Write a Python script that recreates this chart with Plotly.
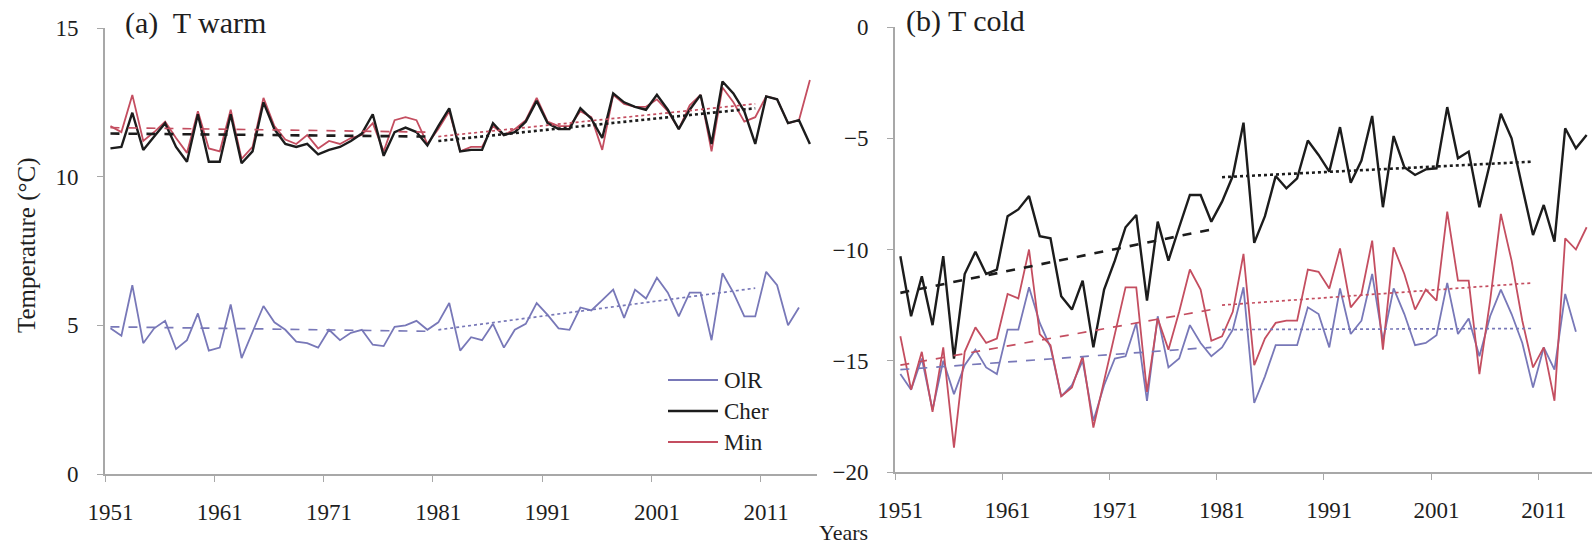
import plotly.graph_objects as go

# ---------------- data ----------------
years_all = list(range(1951, 2016))      # Cher and Min: 1951-2015
years_olr = list(range(1951, 2015))      # OlR: 1951-2014

# (a) T warm
cher_warm = [10.95, 11.0, 12.15, 10.9, 11.35, 11.8, 11.0, 10.5, 12.1, 10.5,
             10.5, 12.1, 10.45, 10.85, 12.5, 11.6, 11.1, 11.0, 11.1, 10.75,
             10.9, 11.0, 11.2, 11.45, 12.1, 10.7, 11.5, 11.65, 11.5, 11.05,
             11.7, 12.3, 10.85, 10.9, 10.9, 11.8, 11.4, 11.5, 11.85, 12.55,
             11.8, 11.6, 11.6, 12.3, 11.95, 11.3, 12.8, 12.5, 12.35, 12.25,
             12.75, 12.25, 11.6, 12.25, 12.75, 11.1, 13.2, 12.8, 12.2, 11.1,
             12.7, 12.6, 11.8, 11.9, 11.1]
min_warm = [11.7, 11.5, 12.75, 11.2, 11.5, 11.85, 11.3, 10.8, 12.2, 10.95,
            10.85, 12.25, 10.6, 11.0, 12.65, 11.7, 11.25, 11.1, 11.4, 10.95,
            11.2, 11.1, 11.3, 11.4, 11.8, 10.85, 11.9, 12.0, 11.9, 11.1,
            11.6, 12.2, 10.85, 11.0, 11.0, 11.7, 11.4, 11.6, 11.9, 12.65,
            11.85, 11.7, 11.7, 12.2, 12.0, 10.9, 12.75, 12.45, 12.35, 12.35,
            12.6, 12.2, 11.6, 12.4, 12.75, 10.85, 13.0, 12.5, 11.85, 12.0,
            12.7, 12.6, 11.8, 11.9, 13.25]
olr_warm = [4.9, 4.65, 6.35, 4.4, 4.9, 5.15, 4.2, 4.5, 5.4, 4.15,
            4.25, 5.7, 3.9, 4.8, 5.65, 5.1, 4.85, 4.45, 4.4, 4.25,
            4.85, 4.5, 4.75, 4.85, 4.35, 4.3, 4.95, 5.0, 5.15, 4.85,
            5.1, 5.75, 4.15, 4.6, 4.5, 5.05, 4.25, 4.85, 5.05, 5.75,
            5.35, 4.9, 4.85, 5.6, 5.5, 5.85, 6.2, 5.25, 6.2, 5.9,
            6.6, 6.1, 5.3, 6.1, 6.1, 4.5, 6.75, 6.1, 5.3, 5.3,
            6.8, 6.35, 5.0, 5.6]

# (b) T cold
cher_cold = [-10.3, -13.0, -11.2, -13.4, -10.3, -14.9, -11.1, -10.1, -11.1, -10.9,
             -8.5, -8.2, -7.6, -9.4, -9.5, -12.1, -12.7, -11.4, -14.4, -11.8,
             -10.5, -9.0, -8.45, -12.3, -8.75, -10.5, -9.0, -7.55, -7.55, -8.75,
             -7.85, -6.7, -4.3, -9.7, -8.5, -6.7, -7.25, -6.8, -5.1, -5.75,
             -6.5, -4.5, -7.0, -6.0, -4.0, -8.1, -4.9, -6.3, -6.65, -6.4,
             -6.35, -3.6, -5.9, -5.6, -8.1, -6.1, -3.9, -5.0, -7.2, -9.35,
             -8.0, -9.65, -4.55, -5.45, -4.85]
min_cold = [-13.9, -16.3, -14.6, -17.3, -14.4, -18.9, -14.6, -13.5, -14.2, -14.0,
            -12.0, -12.2, -10.0, -13.8, -14.3, -16.6, -16.2, -14.8, -18.0, -15.9,
            -13.8, -11.7, -11.7, -16.4, -13.1, -14.5, -12.8, -10.9, -11.8, -14.1,
            -13.9, -12.8, -10.2, -15.2, -14.0, -13.3, -13.2, -13.2, -10.9, -11.0,
            -11.75, -9.95, -12.6, -12.0, -9.6, -14.5, -9.9, -11.1, -12.7, -11.8,
            -12.3, -8.3, -11.4, -11.4, -15.6, -12.3, -8.4, -10.5, -13.2, -15.3,
            -14.4, -16.8, -9.5, -10.0, -9.0]
olr_cold = [-15.6, -16.3, -14.9, -17.2, -15.0, -16.5, -15.2, -14.5, -15.3, -15.6,
            -13.6, -13.6, -11.7, -13.3, -14.4, -16.6, -16.1, -15.0, -17.7, -16.1,
            -14.9, -14.8, -13.3, -16.8, -13.0, -15.3, -14.9, -13.4, -14.2, -14.8,
            -14.4, -13.6, -11.7, -16.9, -15.7, -14.3, -14.3, -14.3, -12.6, -12.9,
            -14.4, -11.75, -13.8, -13.2, -11.1, -14.1, -11.75, -12.9, -14.3, -14.2,
            -13.85, -11.5, -13.8, -13.1, -14.8, -13.0, -11.8, -12.9, -14.2, -16.2,
            -14.4, -15.4, -12.0, -13.7]

# linear trends: start/end values for 1951-1980 and 1981-2010
period1 = [1951, 1980]
period2 = [1981, 2010]
trend_warm = {
    "OlR": ([4.95, 4.8], [4.85, 6.25]),
    "Cher": ([11.45, 11.35], [11.2, 12.3]),
    "Min": ([11.65, 11.5], [11.35, 12.45]),
}
trend_cold = {
    "OlR": ([-15.4, -14.4], [-13.6, -13.55]),
    "Cher": ([-11.95, -9.1], [-6.75, -6.05]),
    "Min": ([-15.2, -12.7], [-12.5, -11.5]),
}

x_ticks = [1951, 1961, 1971, 1981, 1991, 2001, 2011]
y_ticks_warm = [0, 5, 10, 15]
y_ticks_cold = [-20, -15, -10, -5, 0]

# ---------------- style ----------------
W, H = 1595, 546
FONT = "Liberation Serif"
AXIS_COLOR = "#a8a8a8"
TEXT_COLOR = "#1e1e1e"
colors = {"OlR": "#7878b8", "Cher": "#1c1c1c", "Min": "#c44e60"}
widths = {"OlR": 1.8, "Cher": 2.4, "Min": 1.8}


def px(x):
    return x / W


def py(y):
    return 1 - y / H


fig = go.Figure()

series = [
    ("OlR", years_olr, olr_warm, olr_cold),
    ("Min", years_all, min_warm, min_cold),
    ("Cher", years_all, cher_warm, cher_cold),
]

for name, yrs, warm, cold in series:
    for vals, xa, ya in [(warm, "x", "y"), (cold, "x2", "y2")]:
        fig.add_trace(go.Scatter(
            x=yrs, y=vals, mode="lines", xaxis=xa, yaxis=ya,
            line=dict(color=colors[name], width=widths[name]),
            showlegend=False, hoverinfo="skip"))

for trends, xa, ya in [(trend_warm, "x", "y"), (trend_cold, "x2", "y2")]:
    for name in ["OlR", "Min", "Cher"]:
        first, second = trends[name]
        w = 2.6 if name == "Cher" else 1.7
        fig.add_trace(go.Scatter(
            x=period1, y=first, mode="lines", xaxis=xa, yaxis=ya,
            line=dict(color=colors[name], width=w, dash="dash"),
            showlegend=False, hoverinfo="skip"))
        fig.add_trace(go.Scatter(
            x=period2, y=second, mode="lines", xaxis=xa, yaxis=ya,
            line=dict(color=colors[name], width=w, dash="dot"),
            showlegend=False, hoverinfo="skip"))

tick_font = dict(family=FONT, size=23, color=TEXT_COLOR)

xaxis_common = dict(
    tickmode="array", tickvals=x_ticks, ticktext=[str(t) for t in x_ticks],
    ticks="outside", ticklen=6, tickcolor="rgba(0,0,0,0)",
    minor=dict(tick0=1950.5, dtick=10, ticks="outside", ticklen=6,
               tickcolor=AXIS_COLOR, tickwidth=1.2, showgrid=False),
    showline=True, linecolor=AXIS_COLOR, linewidth=1.6,
    showgrid=False, zeroline=False, tickfont=tick_font,
    ticklabelstandoff=11, automargin=False,
)
yaxis_common = dict(
    ticks="outside", ticklen=6, tickcolor=AXIS_COLOR, tickwidth=1.2,
    showline=True, linecolor=AXIS_COLOR, linewidth=1.6,
    showgrid=False, zeroline=False, tickfont=tick_font,
    automargin=False,
)

fig.update_layout(
    width=W, height=H,
    margin=dict(l=0, r=0, t=0, b=0, autoexpand=False),
    paper_bgcolor="white", plot_bgcolor="white",
    showlegend=False,
    xaxis=dict(domain=[px(105), px(817)], range=[1950.5, 2015.65],
               anchor="y", **xaxis_common),
    yaxis=dict(domain=[py(474), py(28)], range=[0, 15], tickvals=y_ticks_warm,
               anchor="x", ticklabelstandoff=14, **yaxis_common),
    xaxis2=dict(domain=[px(895), px(1592)], range=[1950.5, 2015.5],
                anchor="y2", **xaxis_common),
    yaxis2=dict(domain=[py(472), py(27)], range=[-20, 0], tickvals=y_ticks_cold,
                anchor="x2", ticklabelstandoff=14, **yaxis_common),
)

annotations = [
    dict(text="(a)\u00a0 T warm", x=px(123), y=py(23), xanchor="left", yanchor="middle",
         font=dict(family=FONT, size=30, color=TEXT_COLOR)),
    dict(text="(b) T cold", x=px(904), y=py(21), xanchor="left", yanchor="middle",
         font=dict(family=FONT, size=30, color=TEXT_COLOR)),
    dict(text="Temperature (\u00b0C)", x=px(27), y=py(245), textangle=-90,
         xanchor="center", yanchor="middle",
         font=dict(family=FONT, size=25, color=TEXT_COLOR)),
    dict(text="Years", x=px(843), y=py(532), xanchor="center", yanchor="middle",
         font=dict(family=FONT, size=22, color=TEXT_COLOR)),
]

# legend block inside panel (a)
legend_rows = [("OlR", 380), ("Cher", 411), ("Min", 442)]
shapes = []
for name, yy in legend_rows:
    shapes.append(dict(type="line", xref="paper", yref="paper",
                       x0=px(668), x1=px(718), y0=py(yy), y1=py(yy),
                       line=dict(color=colors[name], width=widths[name])))
    annotations.append(dict(text=name, x=px(722), y=py(yy), xanchor="left",
                            yanchor="middle",
                            font=dict(family=FONT, size=23, color=TEXT_COLOR)))

for a in annotations:
    a.update(xref="paper", yref="paper", showarrow=False)

fig.update_layout(annotations=annotations, shapes=shapes)

fig.write_html("out.html")
